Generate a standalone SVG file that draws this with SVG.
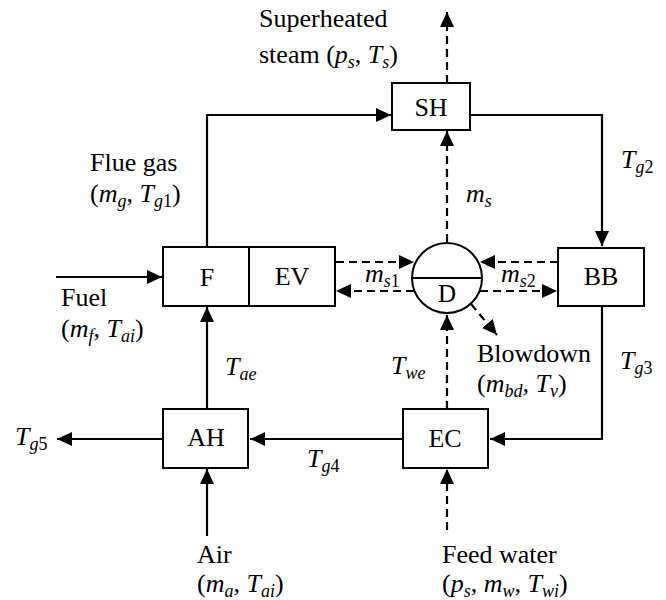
<svg xmlns="http://www.w3.org/2000/svg" width="666" height="600" viewBox="0 0 666 600" font-family="'Liberation Serif', 'DejaVu Serif', serif">
<style>
text{font-family:'Liberation Serif','DejaVu Serif',serif;font-size:26px;fill:#000}
.c{text-anchor:middle}
.i{font-style:italic}
.s{font-size:18px}
.box{fill:#fff;stroke:#000;stroke-width:2}
.ln{fill:none;stroke:#000;stroke-width:2.2}
.d{stroke-dasharray:8,5}
</style>
<defs>
<marker id="ah" viewBox="0 0 15 14" refX="15" refY="7" markerWidth="15" markerHeight="14" markerUnits="userSpaceOnUse" orient="auto">
<path d="M0,0 L15,7 L0,14 z" fill="#000"/>
</marker>
</defs>
<g id="connectors">
<path class="ln" d="M207,247 V115 H391" marker-end="url(#ah)"/>
<path class="ln" d="M470,115 H602 V246" marker-end="url(#ah)"/>
<path class="ln d" d="M447,83 V12" marker-end="url(#ah)"/>
<path class="ln d" d="M447,242 V131" marker-end="url(#ah)"/>
<path class="ln d" d="M336,262 H414" marker-end="url(#ah)"/>
<path class="ln d" d="M414,291 H336" marker-end="url(#ah)"/>
<path class="ln d" d="M558,262 H480" marker-end="url(#ah)"/>
<path class="ln d" d="M480,291 H557" marker-end="url(#ah)"/>
<path class="ln d" d="M471,304 L497,335" marker-end="url(#ah)"/>
<path class="ln d" d="M447,409 V315" marker-end="url(#ah)"/>
<path class="ln d" d="M447,530 V469" marker-end="url(#ah)"/>
<path class="ln" d="M602,307 V439 H490" marker-end="url(#ah)"/>
<path class="ln" d="M403,439 H250" marker-end="url(#ah)"/>
<path class="ln" d="M163,439 H57" marker-end="url(#ah)"/>
<path class="ln" d="M207,536 V469" marker-end="url(#ah)"/>
<path class="ln" d="M207,409 V307" marker-end="url(#ah)"/>
<path class="ln" d="M56,277 H162" marker-end="url(#ah)"/>
</g>
<g id="SH"><rect class="box" x="392" y="83" width="78" height="47"/><text class="c" x="431" y="116">SH</text></g>
<g id="F"><rect class="box" x="163" y="247" width="86" height="59"/><text class="c" x="207" y="286">F</text></g>
<g id="EV"><rect class="box" x="249" y="247" width="86" height="59"/><text class="c" x="292" y="285">EV</text></g>
<g id="D"><circle cx="447" cy="278" r="35" fill="#fff" stroke="#000" stroke-width="2"/><line x1="412" y1="278" x2="482" y2="278" stroke="#000" stroke-width="2"/><text class="c" x="447" y="302" style="font-size:25px">D</text></g>
<g id="BB"><rect class="box" x="558" y="248" width="86" height="58"/><text class="c" x="601" y="285">BB</text></g>
<g id="AH"><rect class="box" x="163" y="409" width="85" height="59"/><text class="c" x="206" y="446">AH</text></g>
<g id="EC"><rect class="box" x="403" y="409" width="85" height="59"/><text class="c" x="445" y="447">EC</text></g>
<g id="labels">
<text x="259" y="27">Superheated</text>
<text x="259" y="63">steam (<tspan class="i">p</tspan><tspan class="i s" dy="5">s</tspan><tspan dy="-5">, </tspan><tspan class="i">T</tspan><tspan class="i s" dy="5">s</tspan><tspan dy="-5">)</tspan></text>
<text x="90" y="171">Flue gas</text>
<text x="90" y="202">(<tspan class="i">m</tspan><tspan class="i s" dy="5">g</tspan><tspan dy="-5">, </tspan><tspan class="i">T</tspan><tspan class="s" dy="5"><tspan class="i">g</tspan>1</tspan><tspan dy="-5">)</tspan></text>
<text x="621" y="168"><tspan class="i">T</tspan><tspan class="s" dy="5"><tspan class="i">g</tspan>2</tspan></text>
<text x="466" y="202"><tspan class="i">m</tspan><tspan class="i s" dy="5">s</tspan></text>
<text x="365" y="282"><tspan class="i">m</tspan><tspan class="s" dy="5"><tspan class="i">s</tspan>1</tspan></text>
<text x="501" y="282"><tspan class="i">m</tspan><tspan class="s" dy="5"><tspan class="i">s</tspan>2</tspan></text>
<text x="61" y="306">Fuel</text>
<text x="61" y="337">(<tspan class="i">m</tspan><tspan class="i s" dy="5">f</tspan><tspan dy="-5">, </tspan><tspan class="i">T</tspan><tspan class="i s" dy="5">ai</tspan><tspan dy="-5">)</tspan></text>
<text x="225" y="375"><tspan class="i">T</tspan><tspan class="i s" dy="5">ae</tspan></text>
<text x="391" y="374"><tspan class="i">T</tspan><tspan class="i s" dy="5">we</tspan></text>
<text x="477" y="362">Blowdown</text>
<text x="477" y="392">(<tspan class="i">m</tspan><tspan class="i s" dy="5">bd</tspan><tspan dy="-5">, </tspan><tspan class="i">T</tspan><tspan class="i s" dy="5">v</tspan><tspan dy="-5">)</tspan></text>
<text x="620" y="369"><tspan class="i">T</tspan><tspan class="s" dy="5"><tspan class="i">g</tspan>3</tspan></text>
<text x="15" y="445"><tspan class="i">T</tspan><tspan class="s" dy="5"><tspan class="i">g</tspan>5</tspan></text>
<text x="307" y="467"><tspan class="i">T</tspan><tspan class="s" dy="5"><tspan class="i">g</tspan>4</tspan></text>
<text x="197" y="563">Air</text>
<text x="197" y="592">(<tspan class="i">m</tspan><tspan class="i s" dy="5">a</tspan><tspan dy="-5">, </tspan><tspan class="i">T</tspan><tspan class="i s" dy="5">ai</tspan><tspan dy="-5">)</tspan></text>
<text x="442" y="563">Feed water</text>
<text x="442" y="592">(<tspan class="i">p</tspan><tspan class="i s" dy="5">s</tspan><tspan dy="-5">, </tspan><tspan class="i">m</tspan><tspan class="i s" dy="5">w</tspan><tspan dy="-5">, </tspan><tspan class="i">T</tspan><tspan class="i s" dy="5">wi</tspan><tspan dy="-5">)</tspan></text>
</g>
</svg>
